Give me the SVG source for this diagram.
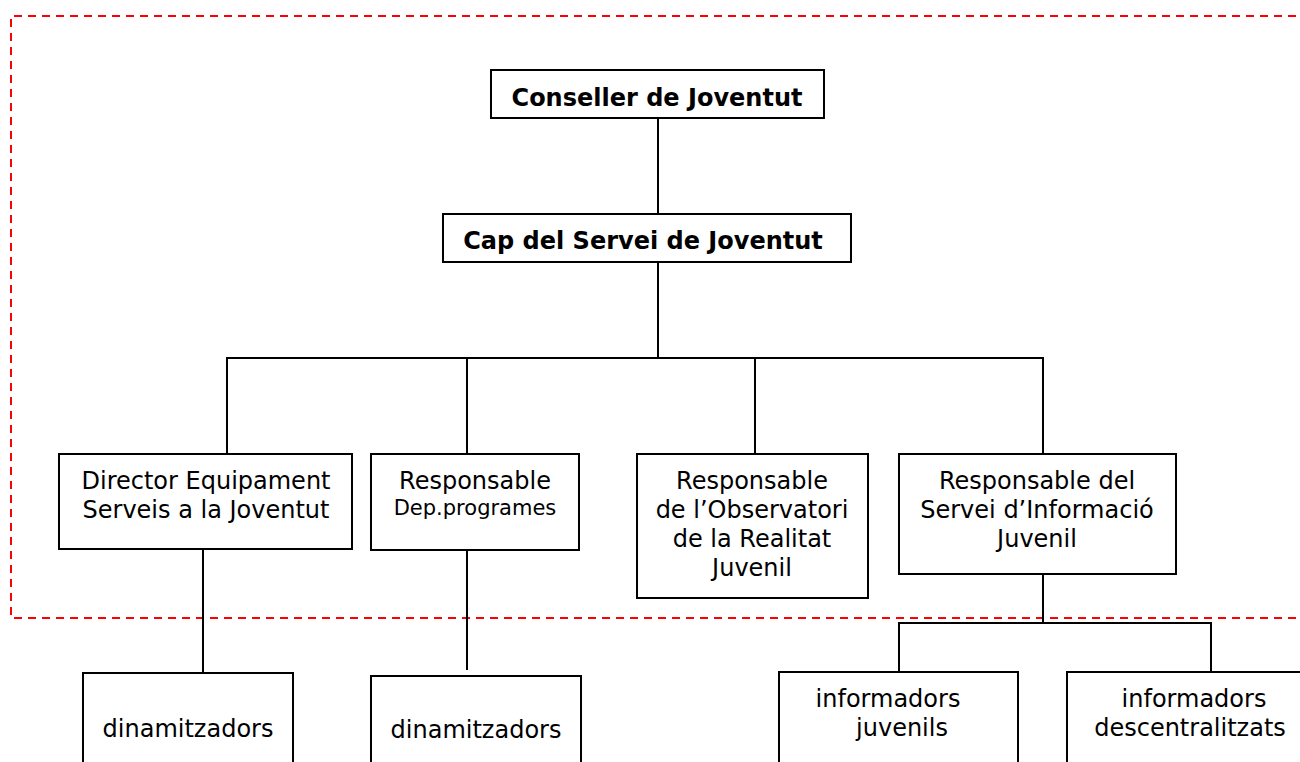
<svg xmlns="http://www.w3.org/2000/svg" width="1300" height="762" viewBox="0 0 1300 762">
<style>
.box{fill:#fff;stroke:#000;stroke-width:2}
.ln{fill:none;stroke:#000;stroke-width:2}
.frame{fill:none;stroke:#ff0000;stroke-width:2;stroke-dasharray:8 6}
text{font-family:"DejaVu Sans","Verdana",sans-serif;fill:#000;text-anchor:middle}
.b{font-weight:bold;font-size:24px}
.r{font-size:24px}
.s{font-size:21px}
</style>
<rect width="1300" height="762" fill="#fff"/>
<path class="frame" d="M1310,16 H11 V618 H1310"/>
<g id="connectors">
<line class="ln" x1="658" y1="118" x2="658" y2="214"/>
<line class="ln" x1="658" y1="262" x2="658" y2="358"/>
<polyline class="ln" points="227,454 227,358 1043,358 1043,454"/>
<line class="ln" x1="467" y1="358" x2="467" y2="454"/>
<line class="ln" x1="755" y1="358" x2="755" y2="454"/>
<line class="ln" x1="203" y1="549" x2="203" y2="672"/>
<line class="ln" x1="467" y1="550" x2="467" y2="670"/>
<line class="ln" x1="1043" y1="574" x2="1043" y2="623"/>
<polyline class="ln" points="899,672 899,623 1211,623 1211,672"/>
</g>
<g id="conseller">
<rect class="box" x="491" y="70" width="333" height="48"/>
<text class="b" x="657" y="106">Conseller de Joventut</text>
</g>
<g id="cap">
<rect class="box" x="443" y="214" width="408" height="48"/>
<text class="b" x="643" y="249">Cap del Servei de Joventut</text>
</g>
<g id="director">
<rect class="box" x="59" y="454" width="293" height="95"/>
<text class="r" x="206" y="489">Director Equipament</text>
<text class="r" x="206" y="518">Serveis a la Joventut</text>
</g>
<g id="dep">
<rect class="box" x="371" y="454" width="208" height="96"/>
<text class="r" x="475" y="489">Responsable</text>
<text class="s" x="475" y="515">Dep.programes</text>
</g>
<g id="observatori">
<rect class="box" x="637" y="454" width="231" height="144"/>
<text class="r" x="752" y="489">Responsable</text>
<text class="r" x="752" y="518">de l’Observatori</text>
<text class="r" x="752" y="547">de la Realitat</text>
<text class="r" x="752" y="576">Juvenil</text>
</g>
<g id="sij">
<rect class="box" x="899" y="454" width="277" height="120"/>
<text class="r" x="1037" y="489">Responsable del</text>
<text class="r" x="1037" y="518">Servei d’Informació</text>
<text class="r" x="1037" y="547">Juvenil</text>
</g>
<g id="dinam1">
<rect class="box" x="83" y="673" width="210" height="120"/>
<text class="r" x="188" y="737">dinamitzadors</text>
</g>
<g id="dinam2">
<rect class="box" x="371" y="676" width="210" height="120"/>
<text class="r" x="476" y="738">dinamitzadors</text>
</g>
<g id="infjuv">
<rect class="box" x="779" y="672" width="239" height="120"/>
<text class="r" x="888" y="707">informadors</text>
<text class="r" x="902" y="736">juvenils</text>
</g>
<g id="infdesc">
<rect class="box" x="1067" y="672" width="260" height="120"/>
<text class="r" x="1194" y="707">informadors</text>
<text class="r" x="1190" y="736">descentralitzats</text>
</g>
</svg>
